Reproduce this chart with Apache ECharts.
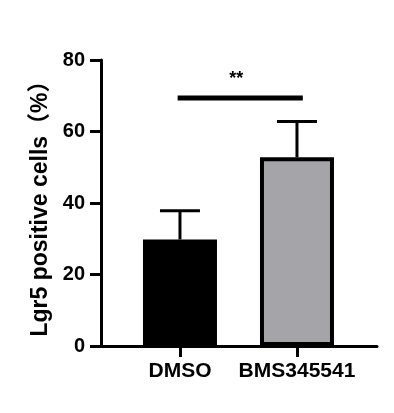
<!DOCTYPE html>
<html>
<head>
<meta charset="utf-8">
<script src="https://cdn.jsdelivr.net/npm/echarts@6/dist/echarts.min.js"></script>
<style>html,body{margin:0;padding:0;background:#fff}#c{width:394px;height:413px}</style>
</head>
<body>
<div id="c"></div>
<script>
var categories = ['DMSO', 'BMS345541'];
var means = [29.8, 52.8];
var upperErr = [37.8, 62.8];
var barColors = ['#000000', '#a5a4a9'];
var yTicks = [0, 20, 40, 60, 80];
var sigLine = [[-0.02, 69.4], [1.05, 69.4]];
var sigText = '**';
var sigTextPos = [0.48, 74.8];

var FONT = "'Liberation Sans', Arial, 'Noto Sans CJK SC', sans-serif";
var chart = echarts.init(document.getElementById('c'), null, {renderer: 'canvas'});

var barData = means.map(function (v, i) {
  return {value: [i, v], itemStyle: {color: barColors[i]}};
});
var errData = means.map(function (v, i) { return [i, v, upperErr[i]]; });

chart.setOption({
  animation: false,
  grid: {left: 101, right: 17, top: 60, bottom: 67},
  xAxis: {
    type: 'value', min: -0.675, max: 1.684,
    splitLine: {show: false},
    axisLine: {show: true, onZero: false, lineStyle: {color: '#000', width: 3}},
    axisTick: {show: true, customValues: [0, 1], length: 11, lineStyle: {color: '#000', width: 3}},
    axisLabel: {
      show: true, customValues: [0, 1], margin: 15,
      formatter: function (v) { return categories[Math.round(v)]; },
      color: '#000', fontSize: 21, fontWeight: 'bold', fontFamily: FONT
    }
  },
  yAxis: {
    type: 'value', min: yTicks[0], max: yTicks[yTicks.length - 1], interval: 20,
    splitLine: {show: false},
    axisLine: {show: true, onZero: false, lineStyle: {color: '#000', width: 3}},
    axisTick: {show: true, length: 11, lineStyle: {color: '#000', width: 3}},
    axisLabel: {margin: 16, color: '#000', fontSize: 20, fontWeight: 'bold', fontFamily: FONT},
    name: 'Lgr5 positive cells（%）',
    nameLocation: 'middle', nameGap: 41, nameRotate: 90,
    nameTextStyle: {color: '#000', fontSize: 23, fontWeight: 'bold', fontFamily: FONT}
  },
  series: [
    {
      type: 'bar', data: barData, barWidth: 74,
      itemStyle: {borderColor: '#000', borderWidth: 4}
    },
    {
      type: 'custom', data: errData, z: 3,
      renderItem: function (params, api) {
        var x = api.value(0);
        var base = api.coord([x, api.value(1)]);
        var top = api.coord([x, api.value(2)]);
        return {
          type: 'group',
          children: [
            {type: 'line', shape: {x1: base[0], y1: base[1], x2: top[0], y2: top[1]}, style: {stroke: '#000', lineWidth: 3}},
            {type: 'line', shape: {x1: top[0] - 20, y1: top[1], x2: top[0] + 20, y2: top[1]}, style: {stroke: '#000', lineWidth: 3}}
          ]
        };
      }
    },
    {
      type: 'custom', data: [0], z: 4,
      renderItem: function (params, api) {
        var a = api.coord(sigLine[0]);
        var b = api.coord(sigLine[1]);
        var t = api.coord(sigTextPos);
        return {
          type: 'group',
          children: [
            {type: 'line', shape: {x1: a[0], y1: a[1], x2: b[0], y2: b[1]}, style: {stroke: '#000', lineWidth: 5}},
            {type: 'text', x: t[0], y: t[1], style: {text: sigText, fill: '#000', fontSize: 18, fontWeight: 'bold', fontFamily: FONT, align: 'center', verticalAlign: 'middle'}}
          ]
        };
      }
    }
  ]
});
</script>
</body>
</html>
